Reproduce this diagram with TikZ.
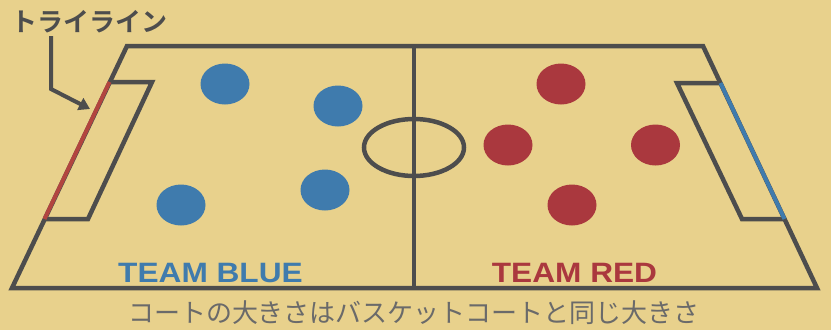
\documentclass[tikz,border=0pt]{standalone}
\usepackage{fontspec}
\setmainfont{Liberation Sans}
\newfontfamily\jpfont{Noto Sans CJK JP}
\newfontfamily\jpbold{Noto Sans CJK JP}[BoldFont={* Bold}]
\usetikzlibrary{arrows.meta,shapes.geometric}
\definecolor{bg}{HTML}{E8D18C}
\definecolor{ln}{HTML}{4D4D4D}
\definecolor{tblue}{HTML}{3F7BAD}
\definecolor{tred}{HTML}{AA383E}
\definecolor{trylred}{HTML}{B2453F}
\definecolor{txtgray}{HTML}{6A6A6A}
\tikzset{
  court/.style={draw=ln, line width=4.5pt, line join=miter},
  tryline/.style={line width=4pt},
  player/.style={ellipse, minimum width=49pt, minimum height=41pt, inner sep=0pt},
  blueplayer/.style={player, fill=tblue},
  redplayer/.style={player, fill=tred},
  teamlabel/.style={font=\bfseries\fontsize{28}{28}\selectfont, anchor=base, inner sep=0pt}
}
\begin{document}
\begin{tikzpicture}[x=1pt,y=-1pt]
\fill[bg] (0,0) rectangle (831,330);
\useasboundingbox (0,0) rectangle (831,330);
% court corners
\coordinate (tl) at (127,46);
\coordinate (tr) at (703,46);
\coordinate (br) at (817,288);
\coordinate (bl) at (12,288);
\coordinate (ct) at (414,46);
\coordinate (cb) at (414,288);
% left in-goal box
\coordinate (la) at (109.5,82);
\coordinate (lb) at (152,82);
\coordinate (lc) at (88,219);
\coordinate (ld) at (44.5,219);
% right in-goal box
\coordinate (ra) at (720.5,83);
\coordinate (rb) at (677,83);
\coordinate (rc) at (742,219);
\coordinate (rd) at (784.5,219);
\draw[court] (tl) -- (tr) -- (br) -- (bl) -- cycle;
\draw[court] (ct) -- (cb);
\draw[court] (la) -- (lb) -- (lc) -- (ld);
\draw[court] (ra) -- (rb) -- (rc) -- (rd);
\draw[court] (414,147.5) ellipse [x radius=50, y radius=28.5];
\draw[tryline, trylred] (la) -- (ld);
\draw[tryline, tblue] (ra) -- (rd);
% players
\node[blueplayer] (b1) at (225,84) {};
\node[blueplayer] (b2) at (338,106) {};
\node[blueplayer] (b3) at (181,205) {};
\node[blueplayer] (b4) at (325,190) {};
\node[redplayer] (r1) at (561,84) {};
\node[redplayer] (r2) at (508,145) {};
\node[redplayer] (r3) at (655.5,145) {};
\node[redplayer] (r4) at (572,205) {};
% team labels
\node[teamlabel, text=tblue] (tb) at (210.5,282) {\scalebox{1.13}[1]{TEAM BLUE}};
\node[teamlabel, text=tred] (tr2) at (574.5,282) {\scalebox{1.13}[1]{TEAM RED}};
% try line label
\node[font=\jpbold\bfseries\fontsize{26}{26}\selectfont, text=ln, anchor=west, inner sep=0pt] (lab) at (11,22) {トライライン};
\coordinate (a0) at (51,36);
\coordinate (a1) at (51,89);
\coordinate (a2) at (90,109);
\draw[ln, line width=4pt, -{Triangle[length=11pt,width=13pt]}] (a0) -- (a1) -- (a2);
% caption
\node[font=\jpfont\fontsize{26}{26}\selectfont, text=txtgray, inner sep=0pt] (cap) at (414,313) {コートの大きさはバスケットコートと同じ大きさ};
\end{tikzpicture}
\end{document}
